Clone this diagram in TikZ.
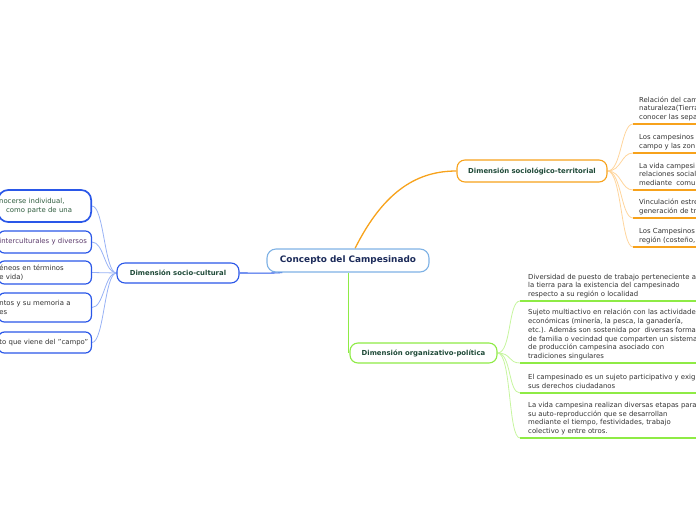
\documentclass[tikz,border=0pt]{standalone}
\usepackage{fontspec}
\setmainfont{DejaVu Sans}
\usepackage{tikz}
\usetikzlibrary{backgrounds}
\definecolor{rootblue}{HTML}{7FB2E5}
\definecolor{roottext}{HTML}{1C2B5A}
\definecolor{dimtext}{HTML}{1F4A38}
\definecolor{terrorange}{HTML}{F7A21B}
\definecolor{terrlight}{HTML}{FFD59C}
\definecolor{polgreen}{HTML}{8EEB45}
\definecolor{pollight}{HTML}{C6F59E}
\definecolor{culblue}{HTML}{2A57E8}
\definecolor{cullight}{HTML}{98B2F5}
\definecolor{leafgreen}{HTML}{2F5D3F}
\definecolor{leafpurple}{HTML}{5C3B6C}
\definecolor{leafgray}{HTML}{333333}
\newcommand{\leaffont}{\fontsize{6.9}{8.8}\selectfont}

\begin{document}
\begin{tikzpicture}[x=1pt,y=-1pt,
  every node/.style={font=\leaffont,text=leafgray},
  dimbox/.style={draw,fill=white,rounded corners=8pt,line width=1.1pt,inner sep=0pt,
    minimum height=20,font=\fontsize{6.9}{8}\selectfont\bfseries,text=dimtext},
  leafbox/.style={draw=culblue,fill=white,line width=1.2pt,rounded corners=6pt,anchor=east,
    align=left,text width=91pt,inner xsep=1pt,inner ysep=0pt},
  leafline/.style={anchor=south west,align=left,inner ysep=1.5pt,execute at end node=\strut},
  terrleaf/.style={leafline,inner xsep=6pt},
  polleaf/.style={leafline,inner xsep=8pt}]
  \useasboundingbox (0,0) rectangle (696,520);

  % centro y dimensiones
  \node[draw=rootblue,fill=white,line width=1.1pt,rounded corners=9pt,minimum width=162,
    minimum height=23,font=\fontsize{8.9}{10}\selectfont\bfseries,text=roottext] (root) at (348,260.5) {Concepto del Campesinado};
  \node[dimbox,draw=terrorange,minimum width=150,minimum height=22] (dst) at (532,171) {Dimensión sociológico-territorial};
  \node[dimbox,draw=polgreen,minimum width=147] (dop) at (423.5,353) {Dimensión organizativo-política};
  \node[dimbox,draw=culblue,minimum width=122] (dsc) at (178,273) {Dimensión socio-cultural};

  % socio-cultural
  \node[leafbox,text=leafgreen,minimum height=32,rounded corners=10pt,line width=1.7pt] (sc1) at (92,206) {nocerse individual,\\\hspace*{7pt}como parte de una};
  \node[leafbox,text=leafpurple,minimum height=22] (sc2) at (92,242) {interculturales y diversos};
  \node[leafbox,minimum height=23] (sc3) at (92,272.5) {éneos en términos\\e vida)};
  \node[leafbox,minimum height=29] (sc4) at (92,307.5) {ntos y su memoria a\\es};
  \node[leafbox,minimum height=21] (sc5) at (92,342.5) {to que viene del "campo"};

  % sociologico-territorial
  \node[terrleaf] (st1) at (633,124) {Relación del cam\\naturaleza(Tierra\\conocer las sepa};
  \node[terrleaf] (st2) at (633,153) {Los campesinos\\campo y las zon};
  \node[terrleaf] (st3) at (633,190) {La vida campesi\\relaciones social\\mediante~~comu};
  \node[terrleaf] (st4) at (633,218) {Vinculación estre\\generación de tr};
  \node[terrleaf] (st5) at (633,247) {Los Campesinos\\región (costeño,};

  % organizativo-politica
  \node[polleaf] (op1) at (520,301) {Diversidad de puesto de trabajo perteneciente a\\la tierra para la existencia del campesinado\\respecto a su región o localidad};
  \node[polleaf] (op2) at (520,363) {Sujeto multiactivo en relación con las actividade\\económicas (minería, la pesca, la ganadería,\\etc.). Además son sostenida por~~diversas forma\\de familia o vecindad que comparten un sistema\\de producción campesina asociado con\\tradiciones singulares};
  \node[polleaf] (op3) at (520,393) {El campesinado es un sujeto participativo y exig\\sus derechos ciudadanos};
  \node[polleaf] (op4) at (520,438) {La vida campesina realizan diversas etapas para\\su auto-reproducción que se desarrollan\\mediante el tiempo, festividades, trabajo\\colectivo y entre otros.};

  \foreach \n in {st1,st2,st3,st4,st5}
    \draw[terrorange,line width=1.4pt] (\n.south west) -- ++(70,0);
  \foreach \n in {op1,op2,op3,op4}
    \draw[polgreen,line width=1.4pt] (\n.south west) -- ++(180,0);

  \begin{scope}[on background layer]
    \draw[terrorange,line width=1.3pt] ([xshift=7pt]root.north) .. controls +(30,-60) and +(-37,0) .. (dst.west);
    \draw[polgreen,line width=1.5pt] ([xshift=-0.8pt]dop.west |- root.south) -- ([xshift=-0.8pt]dop.west);
    \draw[culblue,line width=1.1pt] (dsc.east) .. controls +(15,0) and +(-15,1) .. ([xshift=16pt]root.south west);
    \foreach \n in {st1,st2,st3,st4,st5}
      \draw[terrlight,line width=0.8pt] (dst.east) .. controls +(14,0) and +(-12,0) .. (\n.south west);
    \foreach \n in {op1,op2,op3,op4}
      \draw[pollight,line width=0.8pt] (dop.east) .. controls +(14,0) and +(-12,0) .. (\n.south west);
    \foreach \n in {sc1,sc2,sc3,sc4,sc5}
      \draw[cullight,line width=0.8pt] (dsc.west) .. controls +(-12,0) and +(12,0) .. (\n.east);
  \end{scope}
\end{tikzpicture}
\end{document}
